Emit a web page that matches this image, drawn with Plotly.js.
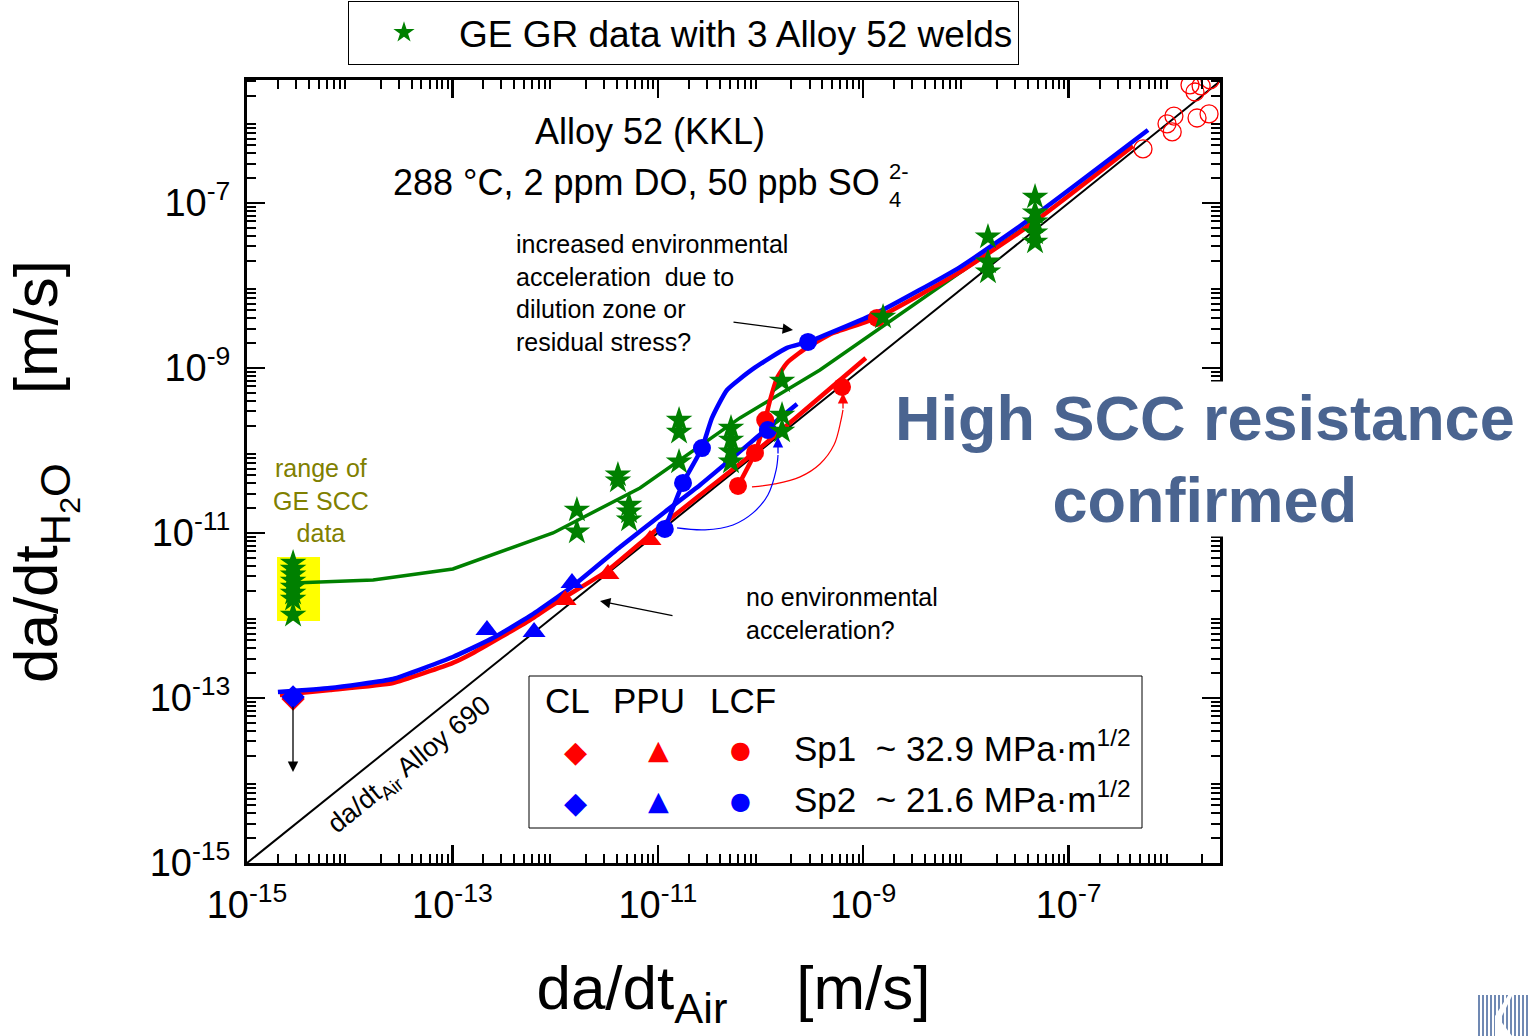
<!DOCTYPE html>
<html>
<head>
<meta charset="utf-8">
<script src="https://cdn.plot.ly/plotly-3.0.1.min.js"></script>
<style>html,body{margin:0;padding:0;background:#fff;}#chart{width:1530px;height:1036px;}</style>
</head>
<body>
<div id="chart"></div>
<script>
// ---------------- DATA (m/s) ----------------
// 1:1 reference line (da/dt_H2O = da/dt_Air, Alloy 690)
const refX = [1e-15, 1e-5];
const refY = [1e-15, 1e-5];

// range of GE SCC data (yellow box)
const geRangeX = [1.96e-15, 5.14e-15, 5.14e-15, 1.96e-15, 1.96e-15];
const geRangeY = [8.57e-13, 8.57e-13, 5.12e-12, 5.12e-12, 8.57e-13];

// GE GR data with 3 Alloy 52 welds (stars)
const geX = [2.81e-15, 2.81e-15, 2.81e-15, 2.81e-15, 2.81e-15, 2.81e-15, 2.81e-15, 2.81e-15,
             1.63e-12, 1.63e-12, 4.09e-12, 4.09e-12, 5.25e-12, 5.25e-12, 5.25e-12,
             1.61e-11, 1.61e-11, 1.61e-11, 5.16e-11, 5.16e-11, 5.16e-11, 5.16e-11,
             1.62e-10, 1.62e-10, 1.62e-10, 1.56e-9,
             1.64e-8, 1.64e-8, 1.64e-8, 4.71e-8, 4.71e-8, 4.71e-8, 4.71e-8, 4.71e-8];
const geY = [4.33e-12, 3.66e-12, 3.10e-12, 2.62e-12, 2.21e-12, 1.87e-12, 1.58e-12, 1.01e-12,
             1.90e-11, 1.03e-11, 5.05e-11, 4.27e-11, 2.18e-11, 1.80e-11, 1.44e-11,
             2.34e-10, 1.67e-10, 7.26e-11, 1.87e-10, 1.34e-10, 9.60e-11, 7.26e-11,
             6.95e-10, 2.69e-10, 1.72e-10, 4.15e-9,
             3.87e-8, 1.93e-8, 1.46e-8, 1.18e-7, 7.57e-8, 5.89e-8, 4.33e-8, 3.36e-8];
// GE trend curve
const geFitX = [2.81e-15, 1.69e-14, 1.01e-13, 9.55e-13, 6.71e-12, 6.31e-11, 3.79e-10, 6.59e-8];
const geFitY = [2.48e-12, 2.69e-12, 3.66e-12, 1.00e-11, 3.51e-11, 2.48e-10, 9.46e-10, 8.22e-8];

// Sp1 (~32.9 MPa m^1/2) curves
const sp1X = [2.09e-15, 6.43e-15, 2.64e-14, 1.01e-13, 1.59e-13, 5.70e-13, 1.12e-12, 3.20e-12, 8.39e-12, 2.58e-11, 9.89e-11, 1.06e-9];
const sp1Y = [1.09e-13, 1.25e-13, 1.52e-13, 2.66e-13, 3.51e-13, 8.82e-13, 1.54e-12, 3.46e-12, 9.46e-12, 2.89e-11, 1.07e-10, 1.32e-9];
const sp1LcfLineX = [6.04e-11, 8.83e-11, 1.11e-10, 1.24e-10, 1.45e-10, 1.81e-10, 2.71e-10, 5.08e-10, 1.36e-9, 8.77e-9, 4.21e-8, 4.24e-7];
const sp1LcfLineY = [3.72e-11, 9.33e-11, 2.34e-10, 4.09e-10, 7.57e-10, 1.15e-9, 1.70e-9, 2.65e-9, 4.04e-9, 1.46e-8, 5.41e-8, 4.91e-7];

// Sp2 (~21.6 MPa m^1/2) curves
const sp2X = [2.00e-15, 6.43e-15, 2.64e-14, 1.01e-13, 2.48e-13, 5.70e-13, 1.49e-12, 4.29e-12, 1.17e-11, 2.58e-11, 1.18e-10, 2.27e-10];
const sp2Y = [1.18e-13, 1.32e-13, 1.70e-13, 3.14e-13, 5.33e-13, 9.86e-13, 2.28e-12, 6.76e-12, 1.80e-11, 3.82e-11, 1.87e-10, 3.66e-10];
const sp2LcfLineX = [1.17e-11, 1.76e-11, 2.69e-11, 3.37e-11, 4.72e-11, 8.45e-11, 1.81e-10, 2.90e-10, 1.36e-9, 8.77e-9, 4.21e-8, 5.93e-7];
const sp2LcfLineY = [1.12e-11, 4.04e-11, 1.07e-10, 2.48e-10, 5.41e-10, 9.73e-10, 1.75e-9, 2.07e-9, 4.65e-9, 1.67e-8, 6.40e-8, 7.67e-7];

// thin connector paths (drawn with arrowheads)
const sp1PathX = [8.26e-11, 1.38e-10, 2.43e-10, 3.79e-10, 5.20e-10, 6.08e-10, 6.35e-10];
const sp1PathY = [3.61e-11, 3.93e-11, 4.78e-11, 6.85e-11, 1.17e-10, 2.34e-10, 3.10e-10];
const sp2PathX = [1.54e-11, 2.88e-11, 5.40e-11, 8.45e-11, 1.18e-10, 1.42e-10, 1.48e-10];
const sp2PathY = [1.15e-11, 1.09e-11, 1.25e-11, 1.75e-11, 2.89e-11, 5.81e-11, 8.81e-11];

// CL (diamonds), PPU (triangles), LCF (circles)
const sp1ClX = [2.81e-15];  const sp1ClY = [9.73e-14];
const sp2ClX = [2.81e-15];  const sp2ClY = [1.03e-13];
const sp1PpuX = [1.25e-12, 3.27e-12, 8.39e-12]; const sp1PpuY = [1.54e-12, 3.18e-12, 8.22e-12];
const sp2PpuX = [2.17e-13, 6.24e-13, 1.46e-12]; const sp2PpuY = [6.67e-13, 6.31e-13, 2.48e-12];
const sp1LcfX = [6.04e-11, 8.83e-11, 1.11e-10, 6.22e-10, 1.36e-9];
const sp1LcfY = [3.72e-11, 9.33e-11, 2.34e-10, 5.89e-10, 4.04e-9];
const sp2LcfX = [1.17e-11, 1.76e-11, 2.69e-11, 1.18e-10, 2.90e-10];
const sp2LcfY = [1.12e-11, 4.04e-11, 1.07e-10, 1.77e-10, 2.07e-9];

// open red circles (air data, upper right)
const airX = [5.30e-7, 9.08e-7, 1.02e-6, 1.06e-6, 1.78e-6, 2.33e-6, 1.52e-6, 1.95e-6, 1.70e-6, 2.38e-6];
const airY = [4.52e-7, 9.09e-7, 7.26e-7, 1.13e-6, 1.07e-6, 1.20e-6, 2.69e-6, 2.62e-6, 2.21e-6, 3.10e-6];

// tick labels (labelled decades) and unlabelled decades
const labelVals = [1e-15, 1e-13, 1e-11, 1e-9, 1e-7];
const labelText = ['10<sup>-15</sup>', '10<sup>-13</sup>', '10<sup>-11</sup>', '10<sup>-9</sup>', '10<sup>-7</sup>'];
const oddDecadeVals = [1e-14, 1e-12, 1e-10, 1e-8, 1e-6];

// ---------------- LAYOUT ----------------
const F = 'Liberation Sans, Arial, Helvetica, sans-serif';
const L = 247, R = 1220, T = 80, B = 863;
const px = x => (x - L) / (R - L);
const py = y => (B - y) / (B - T);

const minorVals = [];
for (let k = -15; k <= -6; k++) for (let m = 2; m <= 9; m++) minorVals.push(m * Math.pow(10, k));

const RED = '#ff0000', BLUE = '#0000ff', GREEN = '#008000';

const traces = [
  {x: geRangeX, y: geRangeY, mode: 'lines', fill: 'toself', fillcolor: '#ffff00', line: {width: 0, color: '#ffff00'}, showlegend: false, hoverinfo: 'skip'},
  {x: refX, y: refY, mode: 'lines', line: {color: '#000', width: 2}, showlegend: false},
  {x: geFitX, y: geFitY, mode: 'lines', line: {color: GREEN, width: 3.5}, showlegend: false},
  {x: sp1X, y: sp1Y, mode: 'lines', line: {color: RED, width: 4.5, shape: 'spline', smoothing: 0.4}, showlegend: false},
  {x: sp1LcfLineX, y: sp1LcfLineY, mode: 'lines', line: {color: RED, width: 4.5, shape: 'spline', smoothing: 0.5}, showlegend: false},
  {x: sp2X, y: sp2Y, mode: 'lines', line: {color: BLUE, width: 4.5, shape: 'spline', smoothing: 0.4}, showlegend: false},
  {x: sp2LcfLineX, y: sp2LcfLineY, mode: 'lines', line: {color: BLUE, width: 4.5, shape: 'spline', smoothing: 0.5}, showlegend: false},
  {x: sp1PathX, y: sp1PathY, mode: 'lines', line: {color: RED, width: 1.2, shape: 'spline'}, showlegend: false},
  {x: sp2PathX, y: sp2PathY, mode: 'lines', line: {color: BLUE, width: 1.2, shape: 'spline'}, showlegend: false},
  {x: sp1ClX, y: sp1ClY, mode: 'markers', marker: {symbol: 'diamond', size: 18, color: RED}, showlegend: false},
  {x: sp2ClX, y: sp2ClY, mode: 'markers', marker: {symbol: 'diamond', size: 18, color: BLUE}, showlegend: false},
  {x: sp1PpuX, y: sp1PpuY, mode: 'markers', marker: {symbol: 'triangle-up', size: 20, color: RED}, showlegend: false},
  {x: sp2PpuX, y: sp2PpuY, mode: 'markers', marker: {symbol: 'triangle-up', size: 20, color: BLUE}, showlegend: false},
  {x: sp1LcfX, y: sp1LcfY, mode: 'markers', marker: {symbol: 'circle', size: 18, color: RED}, showlegend: false},
  {x: sp2LcfX, y: sp2LcfY, mode: 'markers', marker: {symbol: 'circle', size: 18, color: BLUE}, showlegend: false},
  {x: airX, y: airY, mode: 'markers', marker: {symbol: 'circle-open', size: 18, color: RED, line: {width: 1.3}}, showlegend: false},
  {x: geX, y: geY, mode: 'markers', name: 'GE GR data with 3 Alloy 52 welds',
   marker: {symbol: 'star', size: 20, color: GREEN}, showlegend: true}
];

const axisCommon = {
  type: 'log', showgrid: false, zeroline: false,
  showline: true, linecolor: '#000', linewidth: 3, mirror: 'allticks',
  ticks: 'inside', ticklen: 18, tickwidth: 2.5, tickcolor: '#000',
  tickmode: 'array', tickvals: labelVals, ticktext: labelText,
  tickfont: {family: F, size: 38, color: '#000'},
  minor: {tickvals: minorVals, ticks: 'inside', ticklen: 9, tickwidth: 2, tickcolor: '#000'}
};
// overlay axes: long ticks at the unlabelled decades
const overlayCommon = {
  type: 'log', showgrid: false, zeroline: false, showline: false, mirror: 'allticks',
  ticks: 'inside', ticklen: 18, tickwidth: 2.5, tickcolor: '#000',
  tickmode: 'array', tickvals: oddDecadeVals, showticklabels: false
};

const ann = [];
const A = (o) => ann.push(Object.assign({xref: 'paper', yref: 'paper', showarrow: false, xanchor: 'center', yanchor: 'middle',
  font: {family: F, size: 25, color: '#000'}}, o));

A({text: 'Alloy 52 (KKL)', x: px(650), y: py(131), font: {family: F, size: 36, color: '#000'}});
A({text: '288 °C, 2 ppm DO, 50 ppb SO', x: px(391), y: py(182), xanchor: 'left', font: {family: F, size: 36, color: '#000'}});
A({text: '2-', x: px(887), y: py(171), xanchor: 'left', font: {family: F, size: 22, color: '#000'}});
A({text: '4', x: px(887), y: py(200), xanchor: 'left', font: {family: F, size: 22, color: '#000'}});
A({text: 'increased environmental<br>acceleration  due to<br>dilution zone or<br>residual stress?', x: px(514), y: py(293), xanchor: 'left', align: 'left'});
A({text: 'no environmental<br>acceleration?', x: px(744), y: py(613), xanchor: 'left', align: 'left'});
A({text: 'range of<br>GE SCC<br>data', x: px(321), y: py(500), align: 'center', font: {family: F, size: 25, color: '#808000'}});
A({text: '<b>High SCC resistance</b><br><b>confirmed</b>', x: px(1205), y: py(459), align: 'center', bgcolor: '#ffffff',
   font: {family: F, size: 63, color: '#4a6490'}});
A({text: 'da/dt<sub>Air</sub> Alloy 690', x: px(410), y: py(766), textangle: -39, font: {family: F, size: 27, color: '#000'}});

// arrows
const AR = (tx, ty, ax, ay, color) => ann.push({xref: 'paper', yref: 'paper', x: px(tx), y: py(ty), ax: ax, ay: ay, text: '',
  showarrow: true, arrowhead: 2, arrowsize: 1.6, arrowwidth: 1.3, arrowcolor: color});
AR(293, 772, 0, -67, '#000');
AR(793, 330, -61, -8, '#000');
AR(600, 601, 74, 15, '#000');
AR(843, 393, 0, 17, RED);
AR(778, 437, 0, 18, BLUE);

// inner key box
A({text: 'CL', x: px(567), y: py(700), font: {family: F, size: 35, color: '#000'}});
A({text: 'PPU', x: px(649), y: py(700), font: {family: F, size: 35, color: '#000'}});
A({text: 'LCF', x: px(743), y: py(700), font: {family: F, size: 35, color: '#000'}});
const G = 'DejaVu Sans, sans-serif';
A({text: '\u25C6', x: px(575), y: py(751), font: {family: G, size: 30, color: RED}});
A({text: '\u25B2', x: px(658), y: py(749), font: {family: G, size: 27, color: RED}});
A({text: '\u25CF', x: px(740), y: py(750), font: {family: G, size: 24, color: RED}});
A({text: '\u25C6', x: px(575), y: py(802), font: {family: G, size: 30, color: BLUE}});
A({text: '\u25B2', x: px(658), y: py(800), font: {family: G, size: 27, color: BLUE}});
A({text: '\u25CF', x: px(740), y: py(801), font: {family: G, size: 24, color: BLUE}});
A({text: 'Sp1  ~ 32.9 MPa·m<sup>1/2</sup>', x: px(792), y: py(746), xanchor: 'left', font: {family: F, size: 35, color: '#000'}});
A({text: 'Sp2  ~ 21.6 MPa·m<sup>1/2</sup>', x: px(792), y: py(797), xanchor: 'left', font: {family: F, size: 35, color: '#000'}});

const shapes = [
  {type: 'rect', xref: 'paper', yref: 'paper', x0: px(529), x1: px(1142), y0: py(828), y1: py(676), line: {color: '#000', width: 1}, fillcolor: 'rgba(255,255,255,0)'}
];
// small logo fragment at bottom right
for (let s = 1479; s <= 1529; s += 4) {
  shapes.push({type: 'line', xref: 'paper', yref: 'paper', x0: px(s), x1: px(s), y0: py(995), y1: py(1036), line: {color: '#7089b3', width: 2}});
}
shapes.push({type: 'path', xref: 'paper', yref: 'paper', line: {width: 0}, fillcolor: '#ffffff',
  path: `M ${px(1495)},${py(1036)} L ${px(1495)},${py(1016)} L ${px(1509)},${py(994)} L ${px(1513)},${py(994)} L ${px(1500)},${py(1020)} L ${px(1512)},${py(1036)} Z`});

const XR = [-15, -5.526], YR = [-15, -5.51];
const layout = {
  width: 1530, height: 1036,
  margin: {l: L, r: 1530 - R, t: T, b: 1036 - B, pad: 0, autoexpand: false},
  paper_bgcolor: '#fff', plot_bgcolor: '#fff',
  font: {family: F, color: '#000'},
  xaxis: Object.assign({}, axisCommon, {range: XR, ticklabelstandoff: 6,
    title: {text: 'da/dt<sub>Air</sub>\u00a0\u00a0\u00a0\u00a0[m/s]', font: {family: F, size: 62, color: '#000'}, standoff: 42}}),
  yaxis: Object.assign({}, axisCommon, {range: YR, ticklabelstandoff: 6,
    title: {text: 'da/dt<sub>H<sub>2</sub>O</sub>\u00a0\u00a0\u00a0\u00a0[m/s]', font: {family: F, size: 62, color: '#000'}, standoff: 72}}),
  xaxis2: Object.assign({}, overlayCommon, {range: XR, overlaying: 'x', anchor: 'y', side: 'bottom'}),
  yaxis2: Object.assign({}, overlayCommon, {range: YR, overlaying: 'y', anchor: 'x', side: 'left'}),
  showlegend: true,
  legend: {x: px(348), y: py(1), xanchor: 'left', yanchor: 'top', bgcolor: '#fff', bordercolor: '#000', borderwidth: 1,
    font: {family: F, size: 37, color: '#000'}, itemwidth: 100},
  annotations: ann,
  shapes: shapes
};

Plotly.newPlot('chart', traces, layout, {displayModeBar: false, staticPlot: true});
</script>
</body>
</html>
